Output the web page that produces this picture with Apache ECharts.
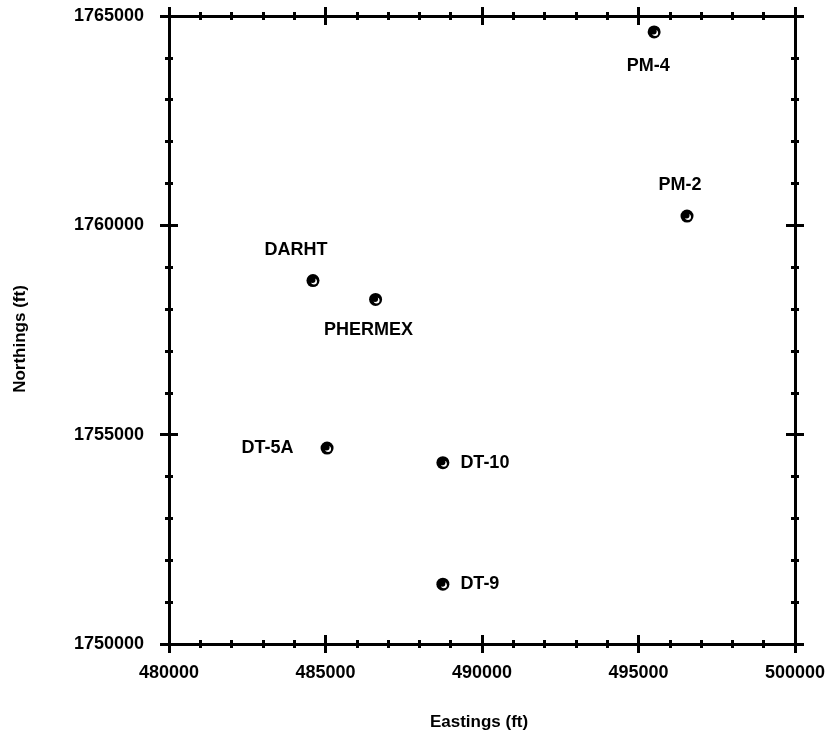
<!DOCTYPE html>
<html>
<head>
<meta charset="utf-8">
<script src="https://cdn.jsdelivr.net/npm/echarts@6/dist/echarts.min.js"></script>
<style>
  html, body { margin: 0; padding: 0; background: #fff; }
  #chart { width: 828px; height: 732px; }
</style>
</head>
<body>
<div id="chart"></div>
<script>
// well locations
const wellNames = ['PM-4', 'PM-2', 'DARHT', 'PHERMEX', 'DT-5A', 'DT-10', 'DT-9'];
const eastings = [495500, 496550, 484600, 486600, 485050, 488750, 488750];
const northings = [1764620, 1760220, 1758680, 1758230, 1754680, 1754330, 1751430];

// label placement per well (style only)
const labelPlace = {
  'PM-4': { position: 'inside', offset: [-6, 34] },
  'PM-2': { position: 'inside', offset: [-7, -31] },
  'DARHT': { position: 'inside', offset: [-17, -31] },
  'PHERMEX': { position: 'inside', offset: [-7, 31] },
  'DT-5A': { position: 'left', distance: 27 },
  'DT-10': { position: 'right', distance: 11 },
  'DT-9': { position: 'right', distance: 11 }
};

const font = "'Liberation Sans', Arial, sans-serif";
const ink = '#000';

const points = wellNames.map((n, i) => ({ name: n, value: [eastings[i], northings[i]] }));

function axis(dim, pos, inside, main) {
  const a = {
    type: 'value',
    position: pos,
    min: dim === 'x' ? 480000 : 1750000,
    max: dim === 'x' ? 500000 : 1765000,
    interval: 5000,
    axisLine: { show: true, onZero: false, lineStyle: { color: ink, width: 3 } },
    axisTick: { show: true, inside: inside, length: 9, lineStyle: { color: ink, width: 3 } },
    minorTick: { show: true, splitNumber: 5, length: 4, lineStyle: { color: ink, width: 3 } },
    splitLine: { show: false },
    axisLabel: { show: false }
  };
  if (main) {
    a.axisLabel = {
      show: true, color: ink, fontFamily: font, fontWeight: 'bold', fontSize: 18,
      margin: dim === 'x' ? 20 : 25,
      formatter: v => String(v)
    };
    a.name = dim === 'x' ? 'Eastings (ft)' : 'Northings (ft)';
    a.nameLocation = 'middle';
    a.nameGap = dim === 'x' ? 70 : 140;
    a.nameTextStyle = {
      color: ink, fontFamily: font, fontWeight: 'bold', fontSize: 17,
      padding: dim === 'x' ? [0, 6, 0, 0] : [0, 18, 0, 0]
    };
  }
  return a;
}

const chart = echarts.init(document.getElementById('chart'));
chart.setOption({
  backgroundColor: '#fff',
  animation: false,
  grid: { left: 169, right: 33, top: 16, bottom: 88, containLabel: false, outerBoundsMode: 'none' },
  xAxis: [
    axis('x', 'bottom', false, true),
    axis('x', 'bottom', true, false),
    axis('x', 'top', false, false),
    axis('x', 'top', true, false)
  ],
  yAxis: [
    axis('y', 'left', false, true),
    axis('y', 'left', true, false),
    axis('y', 'right', false, false),
    axis('y', 'right', true, false)
  ],
  series: [
    {
      type: 'scatter',
      symbol: 'circle',
      symbolSize: 13,
      itemStyle: { color: ink, opacity: 1 },
      data: points.map(p => ({
        name: p.name,
        value: p.value,
        label: Object.assign({}, labelPlace[p.name])
      })),
      label: {
        show: true,
        formatter: '{b}',
        color: ink,
        fontFamily: font,
        fontWeight: 'bold',
        fontSize: 18
      },
      z: 3
    },
    {
      type: 'scatter',
      symbol: 'circle',
      symbolSize: 6,
      symbolOffset: [1, 1],
      itemStyle: { color: '#fff', opacity: 1 },
      data: points.map(p => p.value),
      silent: true,
      z: 4
    },
    {
      type: 'scatter',
      symbol: 'circle',
      symbolSize: 6,
      symbolOffset: [-0.5, -0.5],
      itemStyle: { color: ink, opacity: 1 },
      data: points.map(p => p.value),
      silent: true,
      z: 5
    }
  ]
});
</script>
</body>
</html>
